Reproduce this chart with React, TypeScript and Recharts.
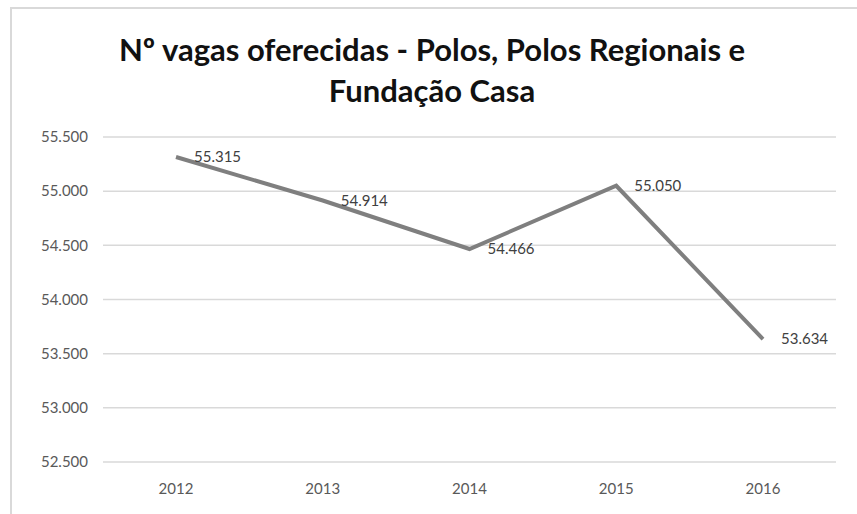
import { LineChart, Line, XAxis, YAxis, CartesianGrid, LabelList } from "recharts";

const years = ["2012", "2013", "2014", "2015", "2016"];
const vagas = [55315, 54914, 54466, 55050, 53634];
const yTicks = [52500, 53000, 53500, 54000, 54500, 55000, 55500];

const data = years.map((year, i) => ({ year, vagas: vagas[i] }));

// pt-BR thousands separator without relying on ICU data
const fmt = (v: number) => String(v).replace(/\B(?=(\d{3})+(?!\d))/g, ".");

export default function App() {
  return (
    <div style={{ position: "absolute", left: 0, top: 0, width: 857, height: 514, background: "#fff", fontFamily: "Lato, 'Open Sans', sans-serif" }}>
      <div style={{ position: "absolute", left: 10, top: 7, right: 0, bottom: 0, borderLeft: "2px solid #d9d9d9", borderTop: "2px solid #d9d9d9" }} />
      <div
        style={{
          position: "absolute",
          left: 0,
          width: 864,
          top: 29,
          textAlign: "center",
          fontWeight: 700,
          fontSize: 31,
          lineHeight: "41px",
          color: "#111",
        }}
      >
        Nº vagas oferecidas - Polos, Polos Regionais e
        <br />
        Fundação Casa
      </div>
      <LineChart width={857} height={514} data={data} margin={{ top: 137, right: 21, bottom: 22, left: 0 }} style={{ position: "absolute", left: 0, top: 0 }}>
        <CartesianGrid vertical={false} stroke="#d9d9d9" strokeWidth={1.5} />
        <XAxis
          dataKey="year"
          axisLine={false}
          tickLine={false}
          tickSize={0}
          tickMargin={21}
          padding={{ left: 73, right: 73 }}
          tick={{ fill: "#595959", fontSize: 15 }}
        />
        <YAxis
          width={103}
          domain={[52500, 55500]}
          ticks={yTicks}
          axisLine={false}
          tickLine={false}
          tickSize={0}
          tickMargin={15}
          tickFormatter={fmt}
          tick={{ fill: "#595959", fontSize: 15 }}
        />
        <Line type="linear" dataKey="vagas" stroke="#7f7f7f" strokeWidth={4} dot={false} isAnimationActive={false}>
          <LabelList dataKey="vagas" position="right" offset={18} formatter={(v: any) => fmt(Number(v))} style={{ fill: "#404040", fontSize: 15 }} />
        </Line>
      </LineChart>
    </div>
  );
}
